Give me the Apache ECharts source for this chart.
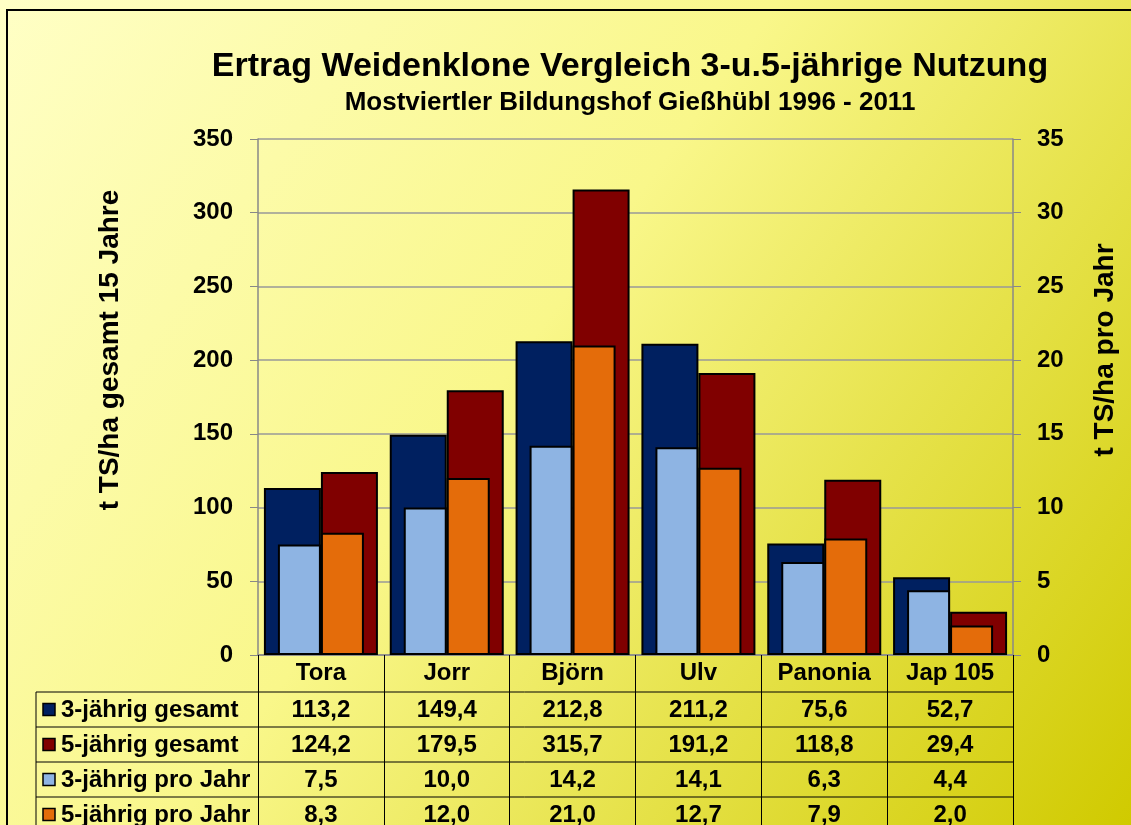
<!DOCTYPE html>
<html>
<head>
<meta charset="utf-8">
<script src="https://cdn.jsdelivr.net/npm/echarts@6/dist/echarts.min.js"></script>
<style>
  html, body { margin: 0; padding: 0; }
  #chart { width: 1131px; height: 825px; }
</style>
</head>
<body>
<div id="chart"></div>
<script>
  // Daten (t TS/ha)
  var klone = ["Tora", "Jorr", "Björn", "Ulv", "Panonia", "Jap 105"];
  var dreiGesamt = [113.2, 149.4, 212.8, 211.2, 75.6, 52.7];
  var fuenfGesamt = [124.2, 179.5, 315.7, 191.2, 118.8, 29.4];
  var dreiProJahr = [7.5, 10.0, 14.2, 14.1, 6.3, 4.4];
  var fuenfProJahr = [8.3, 12.0, 21.0, 12.7, 7.9, 2.0];
  var reihenNamen = ["3-jährig gesamt", "5-jährig gesamt", "3-jährig pro Jahr", "5-jährig pro Jahr"];
  var linksTicks = [0, 50, 100, 150, 200, 250, 300, 350];
  var rechtsTicks = [0, 5, 10, 15, 20, 25, 30, 35];

  var farben = ["#002060", "#800000", "#8EB4E3", "#E46C0A"];
  var font = "Liberation Sans, Arial, sans-serif";

  var gridLeft = 258, gridTop = 139, gridRight = 118, gridBottom = 170;
  var tabLeft = 36, tabRight = 1013;
  var zeilen = [692, 727, 762, 797, 832];

  var myChart = echarts.init(document.getElementById("chart"));

  function fmt(v) {
    return v.toFixed(1).replace(".", ",");
  }

  var option = {
    backgroundColor: {
      type: "linear", x: 0, y: 0, x2: 1, y2: 1,
      colorStops: [
        { offset: 0, color: "#FFFFC6" },
        { offset: 0.45, color: "#F9F78A" },
        { offset: 1, color: "#D0CA00" }
      ]
    },
    title: [{
      text: "Ertrag Weidenklone Vergleich 3-u.5-jährige Nutzung",
      left: 625, top: 45, textAlign: "center",
      textStyle: { fontFamily: font, fontWeight: "bold", fontSize: 34, color: "#000" }
    }, {
      text: "Mostviertler Bildungshof Gießhübl 1996 - 2011",
      left: 625, top: 85, textAlign: "center",
      textStyle: { fontFamily: font, fontWeight: "bold", fontSize: 26, color: "#000" }
    }],
    grid: { left: gridLeft, top: gridTop, right: gridRight, bottom: gridBottom },
    xAxis: [{
      type: "category",
      data: klone,
      axisLine: { lineStyle: { color: "#888", width: 1.5 } },
      axisTick: { show: true, length: 175, lineStyle: { color: "#000", width: 1 } },
      axisLabel: { fontFamily: font, fontWeight: "bold", fontSize: 24, color: "#000", margin: 6 }
    }, {
      type: "category",
      data: klone,
      show: false
    }],
    yAxis: [{
      type: "value",
      min: 0, max: 350, interval: 50,
      name: "t TS/ha gesamt 15 Jahre",
      nameLocation: "middle", nameRotate: 90, nameGap: 134,
      nameTextStyle: {
        fontFamily: font, fontWeight: "bold", fontSize: 28, color: "#000",
        padding: [0, 0, 0, 94]
      },
      axisLine: { show: true, lineStyle: { color: "#888", width: 1.5 } },
      axisTick: { show: true, length: 8, lineStyle: { color: "#888" } },
      axisLabel: {
        fontFamily: font, fontWeight: "bold", fontSize: 24, color: "#000", margin: 25,
        formatter: function (v) { return linksTicks.indexOf(v) >= 0 ? String(v) : ""; }
      },
      splitLine: { lineStyle: { color: "#999", width: 1.5 } }
    }, {
      type: "value",
      min: 0, max: 35, interval: 5,
      name: "t TS/ha pro Jahr",
      nameLocation: "middle", nameRotate: 90, nameGap: 78,
      nameTextStyle: {
        fontFamily: font, fontWeight: "bold", fontSize: 28, color: "#000",
        padding: [0, 0, 0, 94]
      },
      axisLine: { show: true, lineStyle: { color: "#888", width: 1.5 } },
      axisTick: { show: true, length: 8, lineStyle: { color: "#888" } },
      axisLabel: {
        fontFamily: font, fontWeight: "bold", fontSize: 24, color: "#000", margin: 24,
        formatter: function (v) { return rechtsTicks.indexOf(v) >= 0 ? String(v) : ""; }
      },
      splitLine: { show: false }
    }],
    series: [{
      name: reihenNamen[0], type: "bar", xAxisIndex: 0, yAxisIndex: 0,
      data: dreiGesamt, barWidth: 57, barGap: "0%",
      itemStyle: { color: farben[0], borderColor: "#000", borderWidth: 2 }
    }, {
      name: reihenNamen[1], type: "bar", xAxisIndex: 0, yAxisIndex: 0,
      data: fuenfGesamt, barWidth: 57, barGap: "0%",
      itemStyle: { color: farben[1], borderColor: "#000", borderWidth: 2 }
    }, {
      name: reihenNamen[2], type: "bar", xAxisIndex: 1, yAxisIndex: 1,
      data: dreiProJahr, barWidth: 43, barGap: "0%",
      itemStyle: { color: farben[2], borderColor: "#000", borderWidth: 2 }
    }, {
      name: reihenNamen[3], type: "bar", xAxisIndex: 1, yAxisIndex: 1,
      data: fuenfProJahr, barWidth: 43, barGap: "0%",
      itemStyle: { color: farben[3], borderColor: "#000", borderWidth: 2 }
    }]
  };
  myChart.setOption(option);

  // Datentabelle unter dem Diagramm
  var tabelle = [dreiGesamt, fuenfGesamt, dreiProJahr, fuenfProJahr];
  var graphic = [];
  graphic.push({
    type: "rect", silent: true,
    shape: { x: 7, y: 10, width: 1140, height: 830 },
    style: { fill: null, stroke: "#000", lineWidth: 2 }
  });
  zeilen.slice(0, 4).forEach(function (y) {
    graphic.push({
      type: "line", silent: true,
      shape: { x1: tabLeft, y1: y, x2: tabRight, y2: y },
      style: { stroke: "#000", lineWidth: 1 }
    });
  });
  graphic.push({
    type: "line", silent: true,
    shape: { x1: tabLeft, y1: zeilen[0], x2: tabLeft, y2: 830 },
    style: { stroke: "#000", lineWidth: 1 }
  });
  tabelle.forEach(function (reihe, r) {
    var yMid = (zeilen[r] + zeilen[r + 1]) / 2;
    graphic.push({
      type: "rect", silent: true,
      shape: { x: 43, y: yMid - 6, width: 12, height: 12 },
      style: { fill: farben[r], stroke: "#000", lineWidth: 1.5 }
    });
    graphic.push({
      type: "text", silent: true, x: 61, y: yMid + 1,
      style: {
        text: reihenNamen[r], fill: "#000", font: "bold 24px " + font,
        textAlign: "left", textVerticalAlign: "middle"
      }
    });
    reihe.forEach(function (v, i) {
      var x = myChart.convertToPixel({ xAxisIndex: 0 }, klone[i]);
      graphic.push({
        type: "text", silent: true, x: x, y: yMid + 1,
        style: {
          text: fmt(v), fill: "#000", font: "bold 24px " + font,
          textAlign: "center", textVerticalAlign: "middle"
        }
      });
    });
  });
  myChart.setOption({ graphic: graphic });
</script>
</body>
</html>
